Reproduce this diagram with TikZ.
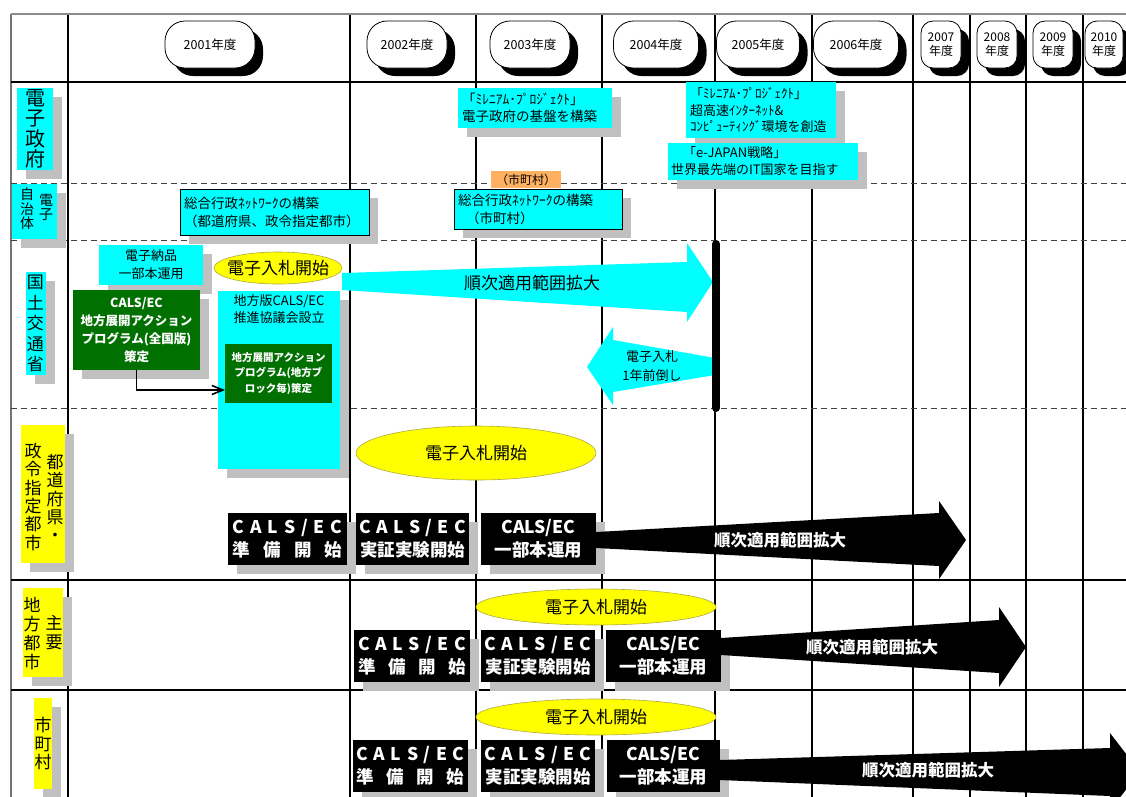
\documentclass[tikz,border=0pt]{standalone}
\usepackage{fontspec}
\setmainfont{Noto Sans CJK JP}
\usetikzlibrary{shapes.geometric,shadows,arrows.meta}
\definecolor{cyanc}{RGB}{0,255,255}
\definecolor{yellowc}{RGB}{255,255,0}
\definecolor{greenc}{RGB}{0,112,0}
\definecolor{shgray}{RGB}{192,192,192}
\definecolor{orangec}{RGB}{255,176,96}
\newcommand\myfs[2]{\fontsize{#1}{#2}\selectfont}
\newcommand\calsp[1]{\makebox[#1][s]{C\hfill A\hfill L\hfill S\hfill /\hfill E\hfill C}}
\newcommand\junbi[1]{\makebox[#1][s]{準\hfill 備\hfill 開\hfill 始}}
\tikzset{
  base/.style={inner sep=0pt, outer sep=0pt},
  sh/.style={drop shadow={shadow xshift=9pt, shadow yshift=-9pt, fill=shgray, opacity=1}},
  pill/.style={base, draw=black, line width=0.8pt, fill=white, rounded corners=20pt,
    minimum height=47pt, font=\myfs{12.5}{14}, align=center,
    drop shadow={shadow xshift=8pt, shadow yshift=-8pt, fill=black, opacity=1}},
  npill/.style={pill, rounded corners=12pt, font=\myfs{12}{14}},
  cbox/.style={base, fill=cyanc, sh},
  ybox/.style={base, fill=yellowc, sh},
  gbox/.style={base, fill=greenc, text=white},
  bbox/.style={base, fill=black, text=white, font=\bfseries\myfs{17.5}{23}, align=center,
    minimum height=52pt, sh},
  yell/.style={base, ellipse, fill=yellowc, draw=black!35!yellow, line width=0.6pt},
  txt/.style={base, align=center},
  vline/.style={black, line width=1.2pt},
  hline/.style={black, line width=1.4pt},
  dline/.style={black!75, line width=1pt, dash pattern=on 6pt off 4pt},
}
\begin{document}
\begin{tikzpicture}[x=1pt,y=-1pt]
\useasboundingbox (0,0) rectangle (1126,796);
\clip (0,0) rectangle (1126,796);
\fill[white] (0,0) rectangle (1126,796);

% grid
\foreach \x in {68,350,476,602,715,812,913,970,1026,1083}
  \draw[vline] (\x,14) -- (\x,800);
\draw[black!55, line width=1.2pt] (11,14) -- (11,800);
\draw[black!45, line width=2.2pt] (11,14) -- (1130,14);
\draw[hline] (11,82) -- (1130,82);
\draw[dline] (11,183) -- (1130,183);
\draw[dline] (11,240) -- (1130,240);
\draw[dline] (11,408) -- (1130,408);
\draw[hline] (11,580) -- (1130,580);
\draw[hline] (11,690) -- (1130,690);

% header pills
\node[pill, minimum width=90pt] (y2001) at (210,44.5) {2001年度};
\node[pill, minimum width=80pt] (y2002) at (407,44.5) {2002年度};
\node[pill, minimum width=80pt] (y2003) at (530,44.5) {2003年度};
\node[pill, minimum width=85pt] (y2004) at (656,44.5) {2004年度};
\node[pill, minimum width=83pt] (y2005) at (758,44.5) {2005年度};
\node[pill, minimum width=85pt] (y2006) at (856,44.5) {2006年度};
\node[npill, minimum width=40pt] (y2007) at (941,44.5) {2007\\年度};
\node[npill, minimum width=40pt] (y2008) at (997,44.5) {2008\\年度};
\node[npill, minimum width=40pt] (y2009) at (1053,44.5) {2009\\年度};
\node[npill, minimum width=38pt] (y2010) at (1104,44.5) {2010\\年度};

% left labels
\node[cbox, minimum width=36pt, minimum height=82pt, font=\myfs{20}{20.5}, align=center] (Ldenshi) at (35,129) {電\\子\\政\\府};
\node[cbox, minimum width=45pt, minimum height=55pt] (Ljichi) at (34.5,211.5) {};
\node[txt, font=\myfs{14}{14.5}] (Ljichi1) at (27,209) {自\\治\\体};
\node[txt, font=\myfs{14}{14.5}] (Ljichi2) at (46,207.5) {電\\子};
\node[cbox, minimum width=20pt, minimum height=103pt, font=\myfs{17}{20.5}, align=center] (Lkoku) at (35.5,323.5) {国\\土\\交\\通\\省};
\node[ybox, minimum width=44pt, minimum height=138pt] (Lpref) at (43,494) {};
\node[txt, font=\myfs{17}{18.3}] (Lpref1) at (33,497) {政\\令\\指\\定\\都\\市};
\node[txt, font=\myfs{17}{18.3}] (Lpref2) at (55,498) {都\\道\\府\\県\\・};
\node[ybox, minimum width=40pt, minimum height=89pt] (Lchiho) at (43,632.5) {};
\node[txt, font=\myfs{17}{19}] (Lchiho1) at (32,634) {地\\方\\都\\市};
\node[txt, font=\myfs{17}{19}] (Lchiho2) at (54,633) {主\\要};
\node[ybox, minimum width=18pt, minimum height=91pt, font=\myfs{17}{18.3}, align=center] (Lshi) at (43,743.5) {市\\町\\村};

% e-government row
\node[cbox, text width=146pt, inner xsep=4pt, minimum height=40pt, align=left, font=\myfs{13.5}{16.5}] (mil1) at (535,108) {「ﾐﾚﾆｱﾑ･ﾌﾟﾛｼﾞｪｸﾄ」\\電子政府の基盤を構築};
\node[cbox, text width=142pt, inner xsep=4pt, minimum height=56pt, align=left, font=\myfs{13}{16.5}] (mil2) at (761,110) {「ﾐﾚﾆｱﾑ･ﾌﾟﾛｼﾞｪｸﾄ」\\超高速ｲﾝﾀｰﾈｯﾄ\&\\ｺﾝﾋﾟｭｰﾃｨﾝｸﾞ環境を創造};
\node[cbox, text width=184pt, inner xsep=3pt, minimum height=37pt, align=left, font=\myfs{13}{17}] (ejapan) at (763,161.5) {\hspace*{12pt}「e-JAPAN戦略」\\世界最先端のIT国家を目指す};

% local government row
\node[base, fill=orangec, minimum width=70pt, minimum height=17pt, font=\myfs{12}{13}] (shicho) at (526,179.5) {（市町村）};
\node[cbox, draw=black, line width=1pt, text width=181pt, inner xsep=4pt, minimum height=46pt, align=left, font=\myfs{13.5}{18}] (net1) at (274.5,212) {総合行政ﾈｯﾄﾜｰｸの構築\\（都道府県、政令指定都市）};
\node[cbox, draw=black, line width=1pt, text width=160pt, inner xsep=4pt, minimum height=40pt, align=left, font=\myfs{13.5}{18}] (net2) at (538,209) {総合行政ﾈｯﾄﾜｰｸの構築\\\hspace*{8pt}（市町村）};

% MLIT row
\node[cbox, minimum width=104pt, minimum height=40pt, align=center, font=\myfs{13}{18}] (nohin) at (151,265) {電子納品\\一部本運用};
\fill[cyanc] (342,273) -- (687,262) -- (687,243) -- (713,282) -- (687,322) -- (687,312) -- (342,290) -- cycle;
\node[txt, font=\myfs{17}{18}] (arr1t) at (532,283) {順次適用範囲拡大};
\node[yell, minimum width=128pt, minimum height=32pt] (bid1) at (278,268) {};
\node[txt, font=\myfs{17}{18}] (bid1t) at (bid1) {電子入札開始};
\node[gbox, sh, minimum width=127pt, minimum height=80pt, font=\bfseries\myfs{12.5}{18}, align=center] (g1) at (136.5,330) {CALS/EC\\地方展開アクション\\プログラム(全国版)\\策定};
\node[cbox, minimum width=122pt, minimum height=178pt] (kyogi) at (279,380) {};
\node[txt, font=\myfs{13}{17}, anchor=north] (kyogit) at (279,295) {地方版CALS/EC\\推進協議会設立};
\node[gbox, minimum width=107pt, minimum height=59pt, font=\bfseries\myfs{10.5}{15.5}, align=center] (g2) at (278.5,373.5) {地方展開アクション\\プログラム(地方ブ\\ロック毎)策定};
\draw[line width=1.3pt, -{Straight Barb[length=11pt,width=9pt,line width=1.6pt]}] (g1.south) |- ([yshift=-16.5pt]g2.west);
\fill[cyanc] (715,358) -- (613,340) -- (613,327) -- (587,367) -- (613,405) -- (613,392) -- (715,375) -- cycle;
\node[txt, font=\myfs{13}{19}] (arr2t) at (652,366) {電子入札\\1年前倒し};
\draw[line width=8pt, line cap=round] (716,244) -- (716,408);

% prefecture row
\node[yell, minimum width=240pt, minimum height=54pt] (bid2) at (476,453) {};
\node[txt, font=\myfs{17}{18}] (bid2t) at (bid2) {電子入札開始};
\node[bbox, minimum width=119pt] (p1) at (287.5,539) {\calsp{110pt}\\\junbi{110pt}};
\node[bbox, minimum width=113pt] (p2) at (412.5,539) {\calsp{107pt}\\実証実験開始};
\node[bbox, minimum width=115pt] (p3) at (538.5,539) {CALS/EC\\一部本運用};
\fill[black] (596,532) -- (939,513) -- (939,501) -- (966,540) -- (939,579) -- (939,566) -- (596,548) -- cycle;
\node[txt, text=white, font=\bfseries\myfs{16.5}{18}] (arr3t) at (780,540) {順次適用範囲拡大};

% major local cities row
\node[yell, minimum width=240pt, minimum height=36pt] (bid3) at (596,607) {};
\node[txt, font=\myfs{17}{18}] (bid3t) at (bid3) {電子入札開始};
\node[bbox, minimum width=116pt] (c1) at (412,656) {\calsp{108pt}\\\junbi{108pt}};
\node[bbox, minimum width=114pt] (c2) at (538,656) {\calsp{107pt}\\実証実験開始};
\node[bbox, minimum width=115pt] (c3) at (663.5,656) {CALS/EC\\一部本運用};
\fill[black] (721,638) -- (999,620) -- (999,607) -- (1026,647) -- (999,687) -- (999,673) -- (721,655) -- cycle;
\node[txt, text=white, font=\bfseries\myfs{16.5}{18}] (arr4t) at (872,647) {順次適用範囲拡大};

% municipalities row
\node[yell, minimum width=240pt, minimum height=36pt] (bid4) at (596,717) {};
\node[txt, font=\myfs{17}{18}] (bid4t) at (bid4) {電子入札開始};
\node[bbox, minimum width=115pt] (d1) at (410.5,766) {\calsp{108pt}\\\junbi{108pt}};
\node[bbox, minimum width=114pt] (d2) at (538,766) {\calsp{107pt}\\実証実験開始};
\node[bbox, minimum width=113pt] (d3) at (663.5,766) {CALS/EC\\一部本運用};
\fill[black] (720,760) -- (1110,748) -- (1110,733) -- (1140,772) -- (1110,810) -- (1110,796) -- (720,780) -- cycle;
\node[txt, text=white, font=\bfseries\myfs{16.5}{18}] (arr5t) at (928,770) {順次適用範囲拡大};
\end{tikzpicture}
\end{document}
